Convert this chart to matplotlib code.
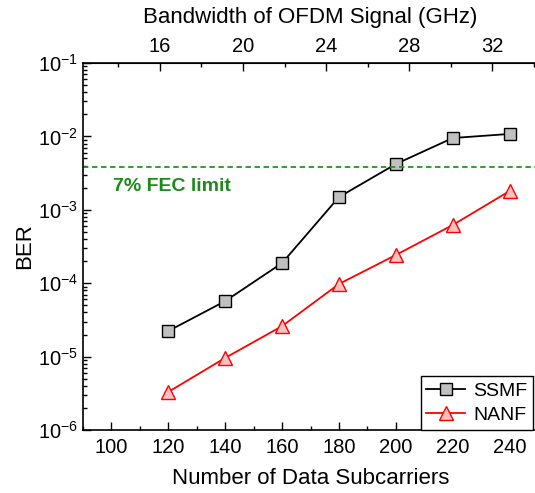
import matplotlib
matplotlib.use("Agg")
import matplotlib.pyplot as plt
from matplotlib.ticker import LogLocator, MultipleLocator, NullFormatter, FixedLocator

plt.rcParams['font.family'] = ['Liberation Sans', 'DejaVu Sans']
plt.rcParams['mathtext.fontset'] = 'custom'
plt.rcParams['mathtext.rm'] = 'Liberation Sans'
plt.rcParams['mathtext.it'] = 'Liberation Sans:italic'
plt.rcParams['mathtext.bf'] = 'Liberation Sans:bold'
plt.rcParams['mathtext.default'] = 'regular'

subcarriers = [120, 140, 160, 180, 200, 220, 240]
ber_ssmf = [2.23e-5, 5.7e-5, 1.88e-4, 1.49e-3, 4.2e-3, 9.5e-3, 1.08e-2]
ber_nanf = [3.3e-6, 9.6e-6, 2.6e-5, 9.75e-5, 2.42e-4, 6.2e-4, 1.8e-3]
fec_limit = 3.8e-3
x_ticks = [100, 120, 140, 160, 180, 200, 220, 240]
bw_ticks = [16, 20, 24, 28, 32]
ghz_per_subcarrier = 16 / 117.0

fig = plt.figure(figsize=(5.35, 4.93), dpi=100)
ax = fig.add_axes([83/535, (493-430)/493, (538-83)/535, (430-63)/493])

ax.plot(subcarriers, ber_ssmf, color='black', lw=1.3, marker='s', ms=8.5,
        mfc='#c0c0c0', mec='black', mew=1.0, label='SSMF')
ax.plot(subcarriers, ber_nanf, color='red', lw=1.3, marker='^', ms=10.5,
        mfc='#ffc0c0', mec='red', mew=1.0, label='NANF')
ax.axhline(fec_limit, color='#1a9a1a', ls=(0, (3, 2)), lw=1.3)
ax.text(100.5, 2.1e-3, '7% FEC limit', color='#1a8a1a', fontsize=14,
        fontweight='bold', va='center', ha='left')

ax.set_yscale('log')
ax.set_ylim(1e-6, 1e-1)
ax.set_xlim(90, 250)
ax.xaxis.set_major_locator(FixedLocator(x_ticks))
ax.xaxis.set_minor_locator(MultipleLocator(10))
ax.yaxis.set_major_locator(LogLocator(base=10, numticks=10))
ax.yaxis.set_minor_locator(LogLocator(base=10, subs=range(2, 10), numticks=20))
ax.yaxis.set_minor_formatter(NullFormatter())
ax.tick_params(which='both', direction='in', labelsize=14.5, width=1.0)
ax.tick_params(which='major', length=6)
ax.tick_params(which='minor', length=3)
ax.tick_params(axis='x', which='major', pad=6)
ax.tick_params(axis='y', which='both', right=False)
ax.tick_params(axis='x', which='both', top=False)
for s in ax.spines.values():
    s.set_linewidth(1.2)

ax.set_xlabel('Number of Data Subcarriers', fontsize=16, labelpad=8)
ax.set_ylabel('BER', fontsize=16, labelpad=2)

sec = ax.secondary_xaxis('top', functions=(lambda s: s * ghz_per_subcarrier,
                                           lambda g: g / ghz_per_subcarrier))
sec.xaxis.set_major_locator(FixedLocator(bw_ticks))
sec.xaxis.set_minor_locator(MultipleLocator(2))
sec.tick_params(which='both', direction='in', labelsize=14.5, width=1.0)
sec.tick_params(which='major', length=6, pad=5)
sec.tick_params(which='minor', length=3)
sec.set_xlabel('Bandwidth of OFDM Signal (GHz)', fontsize=16, labelpad=10)

leg = ax.legend(loc='lower right', bbox_to_anchor=(533/535, (493-430)/493),
                bbox_transform=fig.transFigure, fontsize=14, frameon=True,
                fancybox=False, edgecolor='black', framealpha=1,
                handlelength=2.0, borderpad=0.3, labelspacing=0.35,
                handletextpad=0.4, borderaxespad=0)
leg.get_frame().set_linewidth(1.0)

fig.savefig('out.png', dpi=100)
